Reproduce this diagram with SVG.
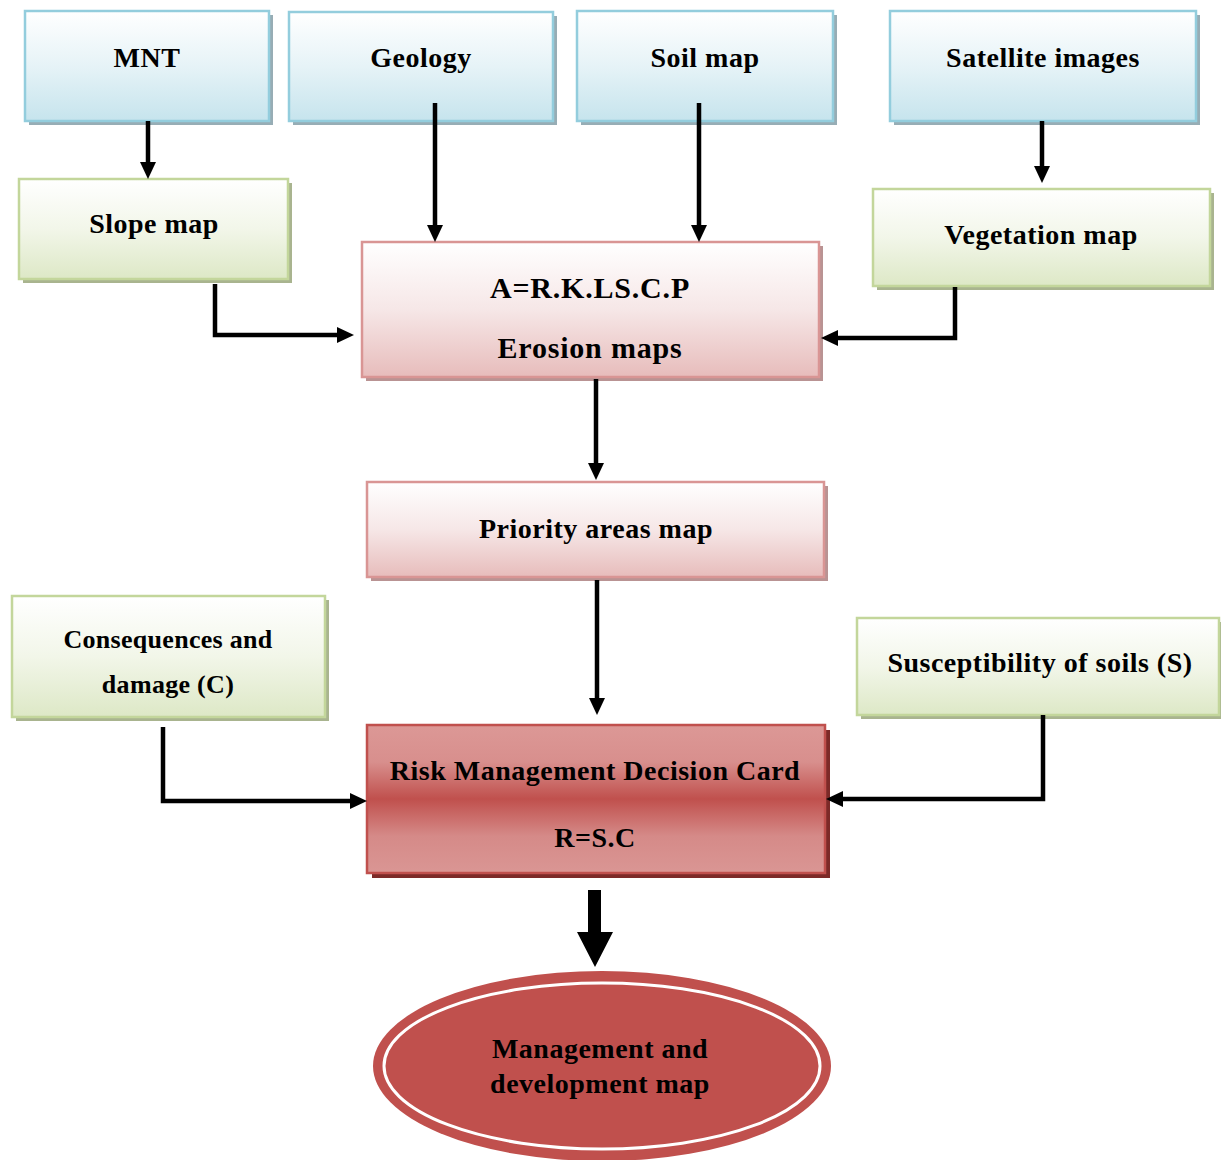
<svg xmlns="http://www.w3.org/2000/svg" width="1221" height="1160" viewBox="0 0 1221 1160">
<style>
text{font-family:"Liberation Serif","Times New Roman",serif;font-weight:bold;font-size:28px;letter-spacing:0.5px;fill:#000;text-anchor:middle}
.blue{fill:url(#gBlue);stroke:#93cddd;stroke-width:2.5}
.green{fill:url(#gGreen);stroke:#c3d69b;stroke-width:2.5}
.pink{fill:url(#gPink);stroke:#d99594;stroke-width:2.5}
.red{fill:url(#gRed);stroke:#c0504d;stroke-width:2.5}
.shB{fill:#97adb5}
.shG{fill:#a9b48f}
.shP{fill:#b99393}
.shR{fill:#7c2a28}
.big{font-size:30px;letter-spacing:0.8px}
.conn{fill:none;stroke:#000;stroke-width:4.5;marker-end:url(#arr)}
</style>
<defs>
<linearGradient id="gBlue" x1="0" y1="0" x2="0" y2="1"><stop offset="0" stop-color="#ffffff"/><stop offset="0.5" stop-color="#e6f3f7"/><stop offset="1" stop-color="#c6e4ed"/></linearGradient>
<linearGradient id="gGreen" x1="0" y1="0" x2="0" y2="1"><stop offset="0" stop-color="#ffffff"/><stop offset="0.5" stop-color="#f2f6e9"/><stop offset="1" stop-color="#dde8c6"/></linearGradient>
<linearGradient id="gPink" x1="0" y1="0" x2="0" y2="1"><stop offset="0" stop-color="#ffffff"/><stop offset="0.5" stop-color="#f6e7e7"/><stop offset="1" stop-color="#e7bcbb"/></linearGradient>
<linearGradient id="gRed" x1="0" y1="0" x2="0" y2="1"><stop offset="0" stop-color="#dc9896"/><stop offset="0.25" stop-color="#d88f8d"/><stop offset="0.5" stop-color="#c0504d"/><stop offset="0.75" stop-color="#d58a88"/><stop offset="1" stop-color="#da9694"/></linearGradient>
<marker id="arr" markerUnits="userSpaceOnUse" markerWidth="18" markerHeight="18" viewBox="0 0 18 18" refX="7" refY="8" orient="auto"><path d="M0,0 L17,8 L0,16 Z" fill="#000"/></marker>
</defs>

<g id="mnt">
<rect class="shB" x="29" y="15" width="244" height="110"/>
<rect class="blue" x="25" y="11" width="244" height="110"/>
<text x="147" y="67">MNT</text>
</g>
<g id="geology">
<rect class="shB" x="293" y="16" width="264" height="109"/>
<rect class="blue" x="289" y="12" width="264" height="109"/>
<text x="421" y="67">Geology</text>
</g>
<g id="soil">
<rect class="shB" x="581" y="15" width="256" height="110"/>
<rect class="blue" x="577" y="11" width="256" height="110"/>
<text x="705" y="67">Soil map</text>
</g>
<g id="satellite">
<rect class="shB" x="894" y="15" width="306" height="110"/>
<rect class="blue" x="890" y="11" width="306" height="110"/>
<text x="1043" y="67">Satellite images</text>
</g>
<g id="slope">
<rect class="shG" x="23" y="183" width="269" height="100"/>
<rect class="green" x="19" y="179" width="269" height="100"/>
<text x="154" y="233">Slope map</text>
</g>
<g id="vegetation">
<rect class="shG" x="877" y="193" width="337" height="97"/>
<rect class="green" x="873" y="189" width="337" height="97"/>
<text x="1041" y="244">Vegetation map</text>
</g>
<g id="erosion">
<rect class="shP" x="366" y="246" width="457" height="135"/>
<rect class="pink" x="362" y="242" width="457" height="135"/>
<text class="big" x="590" y="298">A=R.K.LS.C.P</text>
<text class="big" x="590" y="358">Erosion maps</text>
</g>
<g id="priority">
<rect class="shP" x="371" y="486" width="457" height="95"/>
<rect class="pink" x="367" y="482" width="457" height="95"/>
<text x="596" y="538">Priority areas map</text>
</g>
<g id="consequences">
<rect class="shG" x="16" y="600" width="313" height="121"/>
<rect class="green" x="12" y="596" width="313" height="121"/>
<text x="168" y="648" style="font-size:26px;letter-spacing:0.3px">Consequences and</text>
<text x="168" y="693" style="font-size:26px;letter-spacing:0.3px">damage (C)</text>
</g>
<g id="susceptibility">
<rect class="shG" x="861" y="622" width="364" height="97"/>
<rect class="green" x="857" y="618" width="362" height="97"/>
<text x="1040" y="672">Susceptibility of soils (S)</text>
</g>
<g id="risk">
<rect class="shR" x="372" y="730" width="458" height="148"/>
<rect class="red" x="367" y="725" width="458" height="148"/>
<text x="595" y="780">Risk Management Decision Card</text>
<text x="595" y="847">R=S.C</text>
</g>
<g id="management">
<ellipse cx="602" cy="1066" rx="229" ry="95" fill="#c0504d"/>
<ellipse cx="602" cy="1066" rx="218" ry="83" fill="none" stroke="#fff" stroke-width="3"/>
<text x="600" y="1058">Management and</text>
<text x="600" y="1093">development map</text>
</g>

<g id="connectors">
<path class="conn" d="M148,121 V169"/>
<path class="conn" d="M435,103 V232"/>
<path class="conn" d="M699,103 V232"/>
<path class="conn" d="M1042,121 V173"/>
<path class="conn" d="M215,284 V335 H344"/>
<path class="conn" d="M955,287 V338 H831"/>
<path class="conn" d="M596,379 V470"/>
<path class="conn" d="M597,580 V705"/>
<path class="conn" d="M163,727 V801 H357"/>
<path class="conn" d="M1043,715 V799 H836"/>
<path d="M588,890 H601 V932 H613 L595,967 L577,932 H588 Z" fill="#000"/>
</g>
</svg>
